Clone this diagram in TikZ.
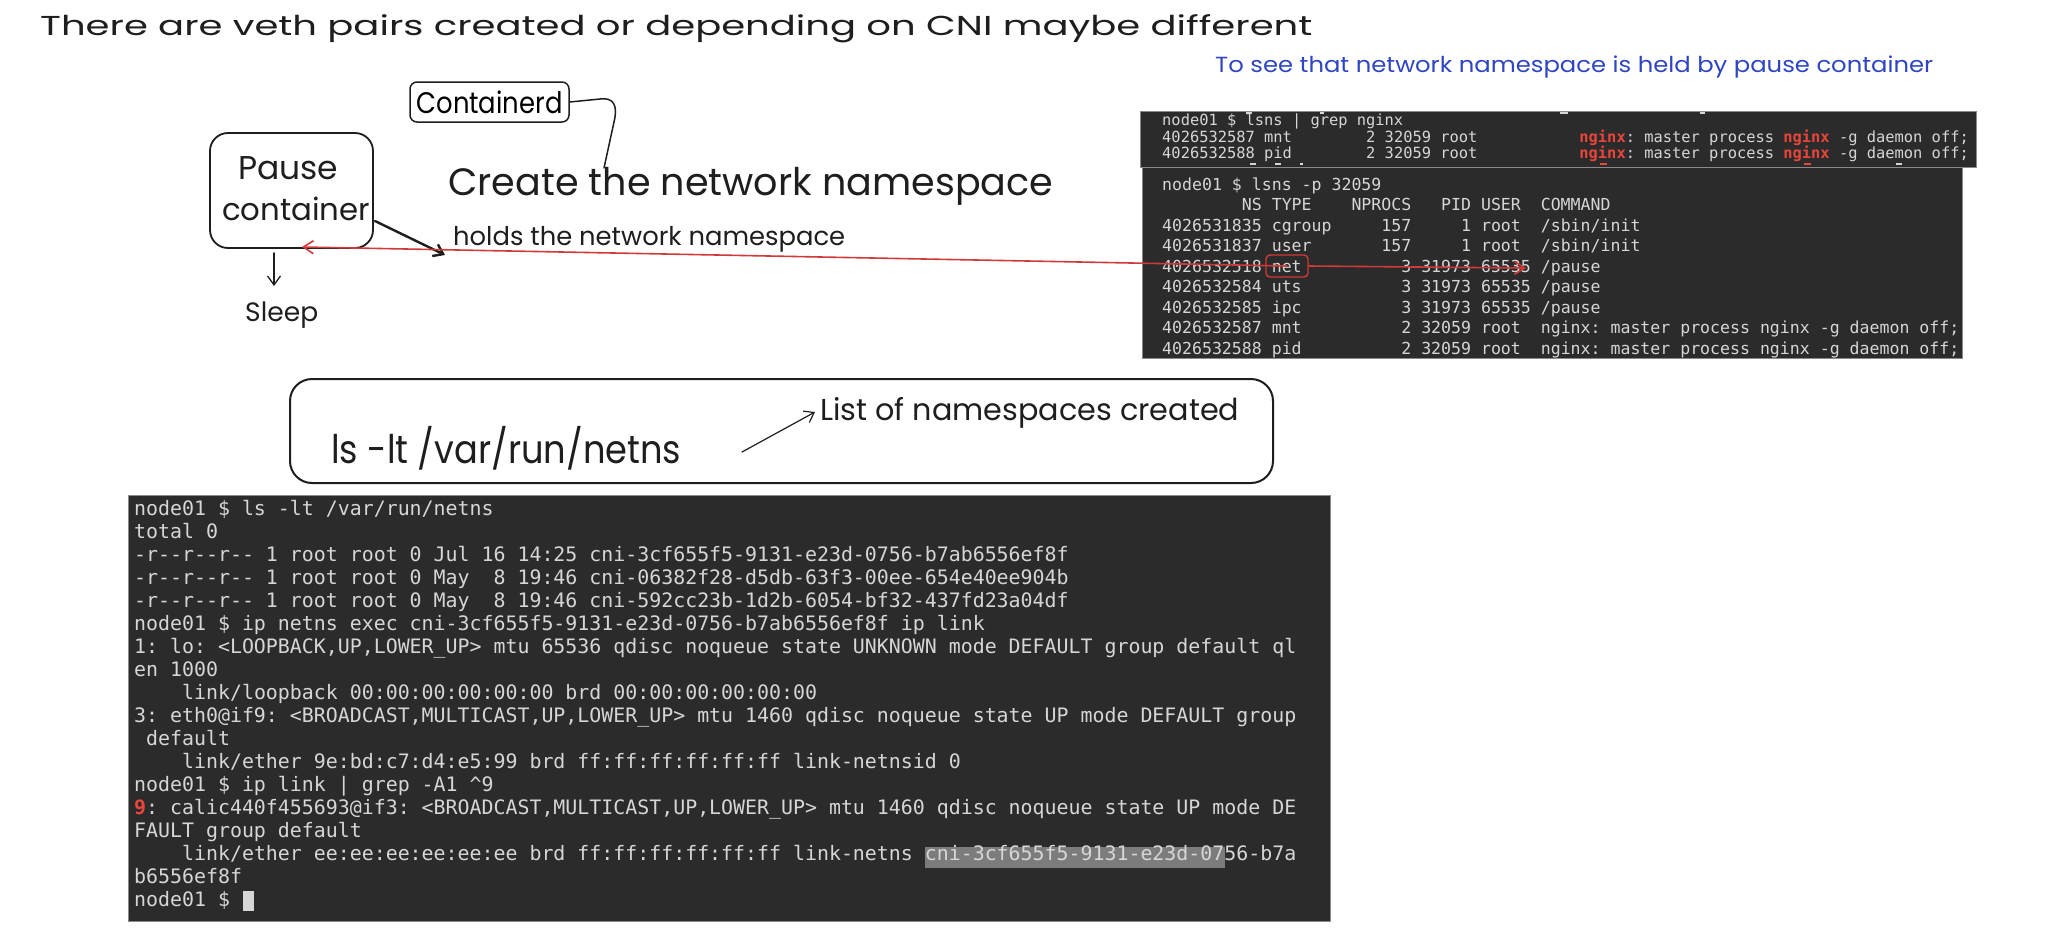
\documentclass[tikz,border=0pt]{standalone}
\usepackage{fontspec}
\setmonofont{DejaVu Sans Mono}
\newfontfamily\hand{Poppins}
\usetikzlibrary{arrows.meta}
\definecolor{ink}{HTML}{1E1E1E}
\definecolor{termbg}{HTML}{2B2B2B}
\definecolor{termedge}{HTML}{8A8A8A}
\definecolor{termfg}{HTML}{D6D6D6}
\definecolor{tred}{HTML}{E8453C}
\definecolor{redline}{HTML}{D03A3A}
\definecolor{hlbg}{HTML}{7C7C7C}
\definecolor{handblue}{HTML}{2F45C4}
\newcommand{\hw}[2]{\resizebox{#1pt}{!}{\hand #2}}
\newcommand{\hwv}[3]{\scalebox{1}[#2]{\resizebox{#1pt}{!}{\hand #3}}}
\newcommand{\rd}[1]{{\color{tred}\bfseries #1}}
\tikzset{
  htext/.style={inner sep=0pt, anchor=base west, text=ink},
  sketchbox/.style={draw=ink, line width=1.8pt, inner sep=0pt},
  term/.style={fill=termbg, draw=termedge, line width=0.6pt, inner sep=0pt, anchor=north west},
  tline/.style={inner sep=0pt, anchor=base west, text=termfg, font=\ttfamily\fontsize{19.9}{23}\selectfont},
  tlineA/.style={tline, font=\ttfamily\fontsize{15.4}{17}\selectfont},
  tlineB/.style={tline, font=\ttfamily\fontsize{16.55}{20}\selectfont},
  inkline/.style={draw=ink, line width=1.5pt, line cap=round},
  barb/.style={-{Straight Barb[length=9pt,width=13pt]}},
  redarr/.style={draw=redline, line width=1.6pt, -{Straight Barb[length=10pt,width=13pt]}},
  frag/.style={fill=termfg},
  fragred/.style={fill=tred}
}
\begin{document}
\begin{tikzpicture}[x=1pt,y=-1pt]
\useasboundingbox (0,0) rectangle (2048,927);
\fill[white] (0,0) rectangle (2048,927);

% ---------- handwritten texts ----------
\node[htext] (title) at (40,35) {\hwv{1272}{0.71}{There are veth pairs created or depending on CNI maybe different}};
\node[htext, text=handblue] (bluenote) at (1215,72) {\hwv{718}{0.9}{To see that network namespace is held by pause container}};

\node[sketchbox, rounded corners=7pt, line width=1.5pt, minimum width=159pt, minimum height=40pt] (cd) at (489.5,102) {\hwv{146}{1.15}{Containerd}};

\node[sketchbox, rounded corners=18pt, minimum width=163pt, minimum height=115pt] (pause) at (291.5,190.5) {};
\node[htext] (pauseA) at (238,179) {\hw{100}{Pause}};
\node[htext] (pauseB) at (222,220) {\hw{148}{container}};
\node[htext] (sleep) at (245,321) {\hw{73}{Sleep}};

\node[htext] (create) at (448,195) {\hw{605}{Create the network namespace}};
\node[htext] (holds) at (453,245) {\hw{392}{holds the network namespace}};

\node[sketchbox, rounded corners=22pt, line width=2pt, minimum width=983pt, minimum height=104pt] (cmdbox) at (781.5,431) {};
\node[htext] (lscmd) at (331,463) {\hwv{350}{1.12}{ls -lt /var/run/netns}};
\node[htext] (listlbl) at (820,420) {\hw{419}{List of namespaces created}};

% ---------- top terminal ----------
\node[term, minimum width=820pt, minimum height=191pt] (termB) at (1142,167) {};
\node[term, minimum width=836pt, minimum height=56pt] (termA) at (1140,111) {};
\node[tlineA] (qa1) at (1162,125) {node01 \$ lsns | grep nginx};
\node[tlineA] (qa2) at (1162,142) {4026532587 mnt~~~~~~~~2 32059 root~~~~~~~~~~~\rd{nginx}: master process \rd{nginx} -g daemon off;};
\node[tlineA] (qa3) at (1162,158) {4026532588 pid~~~~~~~~2 32059 root~~~~~~~~~~~\rd{nginx}: master process \rd{nginx} -g daemon off;};
% cut-off glyph fragments along the edges of the first screenshot
\fill[frag] (1246,112) rectangle (1252,114);
\fill[frag] (1320,112) rectangle (1324,114);
\fill[frag] (1560,112) rectangle (1568,114);
\fill[frag] (1700,112) rectangle (1705,114);
\fill[frag] (1250,163) rectangle (1256,165);
\fill[frag] (1275,163) rectangle (1281,165);
\fill[frag] (1300,163) rectangle (1303,165);
\fill[fragred] (1600,163) rectangle (1607,165);
\fill[fragred] (1804,163) rectangle (1811,165);
\fill[frag] (1896,163) rectangle (1902,165);

\node[tlineB] (pb1) at (1162,190) {node01 \$ lsns -p 32059};
\node[tlineB] (pb2) at (1162,210.5) {~~~~~~~~NS TYPE~~~~NPROCS~~~PID USER~~COMMAND};
\node[tlineB] (pb3) at (1162,231) {4026531835 cgroup~~~~~157~~~~~1 root~~/sbin/init};
\node[tlineB] (pb4) at (1162,251.5) {4026531837 user~~~~~~~157~~~~~1 root~~/sbin/init};
\node[tlineB] (pb5) at (1162,272) {4026532518 net~~~~~~~~~~3 31973 65535 /pause};
\node[tlineB] (pb6) at (1162,292.5) {4026532584 uts~~~~~~~~~~3 31973 65535 /pause};
\node[tlineB] (pb7) at (1162,313) {4026532585 ipc~~~~~~~~~~3 31973 65535 /pause};
\node[tlineB] (pb8) at (1162,333.5) {4026532587 mnt~~~~~~~~~~2 32059 root~~nginx: master process nginx -g daemon off;};
\node[tlineB] (pb9) at (1162,354) {4026532588 pid~~~~~~~~~~2 32059 root~~nginx: master process nginx -g daemon off;};

\node[draw=redline, line width=1.4pt, rounded corners=4pt, minimum width=42pt, minimum height=22pt, inner sep=0pt] (netbox) at (1287,266) {};

% ---------- bottom terminal ----------
\node[term, minimum width=1202pt, minimum height=426pt] (termC) at (128,495) {};
\fill[hlbg] (925,847) rectangle (1225,868);
\fill[termfg] (243,891) rectangle (254,911);
\node[tline] (c1) at (134,515) {node01 \$ ls -lt /var/run/netns};
\node[tline] (c2) at (134,538) {total 0};
\node[tline] (c3) at (134,561) {-r--r--r-- 1 root root 0 Jul 16 14:25 cni-3cf655f5-9131-e23d-0756-b7ab6556ef8f};
\node[tline] (c4) at (134,584) {-r--r--r-- 1 root root 0 May~~8 19:46 cni-06382f28-d5db-63f3-00ee-654e40ee904b};
\node[tline] (c5) at (134,607) {-r--r--r-- 1 root root 0 May~~8 19:46 cni-592cc23b-1d2b-6054-bf32-437fd23a04df};
\node[tline] (c6) at (134,630) {node01 \$ ip netns exec cni-3cf655f5-9131-e23d-0756-b7ab6556ef8f ip link};
\node[tline] (c7) at (134,653) {1: lo: <LOOPBACK,UP,LOWER\_UP> mtu 65536 qdisc noqueue state UNKNOWN mode DEFAULT group default ql};
\node[tline] (c8) at (134,676) {en 1000};
\node[tline] (c9) at (134,699) {~~~~link/loopback 00:00:00:00:00:00 brd 00:00:00:00:00:00};
\node[tline] (c10) at (134,722) {3: eth0@if9: <BROADCAST,MULTICAST,UP,LOWER\_UP> mtu 1460 qdisc noqueue state UP mode DEFAULT group};
\node[tline] (c11) at (134,745) {~default};
\node[tline] (c12) at (134,768) {~~~~link/ether 9e:bd:c7:d4:e5:99 brd ff:ff:ff:ff:ff:ff link-netnsid 0};
\node[tline] (c13) at (134,791) {node01 \$ ip link | grep -A1 \textasciicircum 9};
\node[tline] (c14) at (134,814) {\rd{9}: calic440f455693@if3: <BROADCAST,MULTICAST,UP,LOWER\_UP> mtu 1460 qdisc noqueue state UP mode DE};
\node[tline] (c15) at (134,837) {FAULT group default};
\node[tline] (c16) at (134,860) {~~~~link/ether ee:ee:ee:ee:ee:ee brd ff:ff:ff:ff:ff:ff link-netns cni-3cf655f5-9131-e23d-0756-b7a};
\node[tline] (c17) at (134,883) {b6556ef8f};
\node[tline] (c18) at (134,906) {node01 \$};

% ---------- connectors ----------
\coordinate (ctgt) at (604,168);
\draw[inkline] (cd.east) -- (600,99) .. controls (614,97) and (618,106) .. (614,122) -- (ctgt);

\coordinate (sleeptop) at (274,286);
\draw[inkline, line width=1.3pt, barb] ([xshift=-17.5pt,yshift=-4pt]pause.south) -- (sleeptop);

\coordinate (holdA) at (375,221);
\coordinate (holdB) at (445,255);
\draw[inkline, line width=2.4pt, barb] (holdA) -- (holdB);

\coordinate (redL) at (302,247);
\coordinate (redR) at (1526,268);
\draw[redarr] (netbox.center) -- (redL);
\draw[redarr] (netbox.east) -- (redR);

\coordinate (lsA) at (742,452);
\coordinate (lsB) at (815,412);
\draw[inkline, line width=1.2pt, barb] (lsA) -- (lsB);
\end{tikzpicture}
\end{document}
